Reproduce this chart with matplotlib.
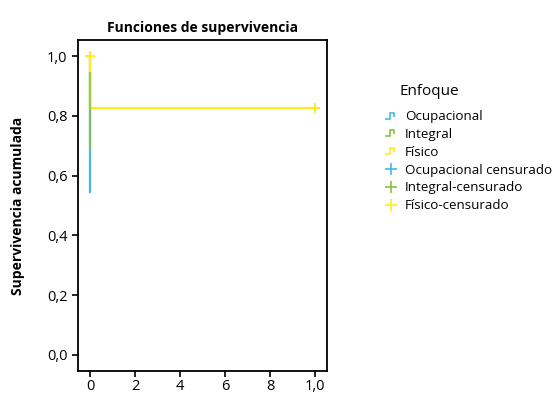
import numpy as np
import matplotlib.pyplot as plt
from matplotlib.path import Path
from matplotlib.lines import Line2D

plt.rcParams['font.family'] = ['Open Sans', 'DejaVu Sans']

# survival step data (time, cumulative survival)
ocup_t = [0, 0]
ocup_s = [1.0, 0.545]
fis_t = [0, 0, 10]
fis_s = [1.0, 0.826, 0.826]
integ_t = [0, 0]
integ_s = [0.945, 0.69]

# censored points
fis_cens_t = [0, 10]
fis_cens_s = [1.0, 0.826]

xticks = [0, 2, 4, 6, 8, 10]
xticklabels = ['0', '2', '4', '6', '8', '1,0']
yticks = [0.0, 0.2, 0.4, 0.6, 0.8, 1.0]
yticklabels = ['0,0', '0,2', '0,4', '0,6', '0,8', '1,0']

C_BLUE = '#45b8ea'
C_GREEN = '#86c440'
C_YELLOW = '#ffec1a'

fig = plt.figure(figsize=(5.56, 3.94), dpi=100)
ax = fig.add_axes([0.1403, 0.0584, 0.448, 0.840])

ax.plot(ocup_t, ocup_s, color=C_BLUE, lw=1.6)
ax.plot(fis_t, fis_s, color=C_YELLOW, lw=1.6)
ax.plot(integ_t, integ_s, color=C_GREEN, lw=1.6, alpha=0.8)
ax.plot(fis_cens_t, fis_cens_s, ls='none', marker='+', ms=7, mew=1.4, color=C_YELLOW)

ax.set_xlim(-0.53, 10.53)
ax.set_ylim(-0.054, 1.054)
ax.set_xticks(xticks, xticklabels)
ax.set_yticks(yticks, yticklabels)
ax.tick_params(labelsize=10.5, length=4, width=1.2, colors='black')
ax.tick_params(axis='x', pad=1.5)
for sp in ax.spines.values():
    sp.set_linewidth(1.3)

ax.set_title('Funciones de supervivencia', fontsize=10, fontweight='bold', pad=6)
ax.set_ylabel('Supervivencia acumulada', fontsize=10, fontweight='bold', labelpad=16)

# legend
step = Path([(-1, -0.5), (-0.25, -0.5), (-0.25, 0.5), (0.6, 0.5), (0.6, -0.2)],
            [Path.MOVETO, Path.LINETO, Path.LINETO, Path.LINETO, Path.LINETO])
names = ['Ocupacional', 'Integral', 'Físico',
         'Ocupacional censurado', 'Integral-censurado', 'Físico-censurado']
cols = [C_BLUE, C_GREEN, C_YELLOW, C_BLUE, C_GREEN, C_YELLOW]
handles = []
for i, (n, c) in enumerate(zip(names, cols)):
    if i < 3:
        h = Line2D([], [], ls='none', marker=step, ms=8, mew=1.2,
                   mfc='none', mec=c)
    else:
        h = Line2D([], [], ls='none', marker='+', ms=9, mew=1.2, color=c)
    handles.append(h)
leg = fig.legend(handles, names, title='Enfoque', loc='upper left',
                 bbox_to_anchor=(0.683, 0.80), frameon=False, fontsize=9.6,
                 title_fontsize=11, handlelength=0.9, handletextpad=0.6,
                 labelspacing=0.36, borderaxespad=0)
leg._legend_box.align = 'left'
leg._legend_box.sep = 8
leg.get_title().set_position((14, 0))

fig.savefig('out.png', dpi=100)
